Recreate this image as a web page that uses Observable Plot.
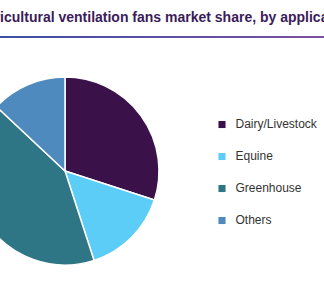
<!DOCTYPE html>
<html>
<head>
<meta charset="utf-8">
<script src="https://cdn.jsdelivr.net/npm/d3@7"></script>
<script src="https://cdn.jsdelivr.net/npm/@observablehq/plot@0.6"></script>
<style>
  html, body { margin: 0; padding: 0; background: #fff; }
  #wrap { position: relative; width: 324px; height: 290px; overflow: hidden; font-family: "Liberation Sans", Arial, sans-serif; }
  #title { position: absolute; top: 9px; left: -24px; white-space: nowrap; font-weight: bold; font-size: 14px; line-height: 16px; color: #3a1c5a; }
  #rule { position: absolute; top: 36px; left: 0; width: 324px; height: 2px; background: linear-gradient(to right, #3c4fa6, #7c509f); }
  #chart { position: absolute; top: 40px; left: 0; }
</style>
</head>
<body>
<div id="wrap">
  <div id="title">Agricultural ventilation fans market share, by application</div>
  <div id="rule"></div>
  <div id="chart"></div>
</div>
<script>
const categories = ["Dairy/Livestock", "Equine", "Greenhouse", "Others"];
const shares = [30, 15, 42, 13];
const colors = ["#3a1149", "#5ccdf7", "#2e7585", "#4e8abd"];

const data = categories.map((c, i) => ({category: c, share: shares[i]}));

const pieMark = Plot.dot(data, {
  x: "share",
  y: "category",
  fill: "category",
  render(index, scales, values, dimensions) {
    const pie = d3.pie().sort(null).value(i => data[i].share);
    const arc = d3.arc().innerRadius(0).outerRadius(94);
    const g = d3.create("svg:g").attr("transform", "translate(65,131)");
    g.selectAll("path")
      .data(pie(Array.from(index)))
      .join("path")
      .attr("d", arc)
      .attr("fill", d => values.fill[d.data])
      .attr("stroke", "#fff")
      .attr("stroke-width", 1.5)
      .attr("stroke-linejoin", "round");
    return g.node();
  }
});

const chart = Plot.plot({
  width: 324,
  height: 250,
  margin: 0,
  style: {background: "transparent", fontFamily: "Liberation Sans, Arial, sans-serif"},
  x: {axis: null},
  y: {type: "point", domain: categories, range: [83, 181], padding: 0, axis: null},
  color: {domain: categories, range: colors},
  marks: [
    pieMark,
    Plot.dot(data, {y: "category", fill: "category", symbol: "square", r: 4, frameAnchor: "left", dx: 221.5}),
    Plot.text(data, {y: "category", text: "category", frameAnchor: "left", dx: 235, textAnchor: "start", fontSize: 12, fill: "#333"})
  ]
});
document.getElementById("chart").appendChild(chart);
</script>
</body>
</html>
